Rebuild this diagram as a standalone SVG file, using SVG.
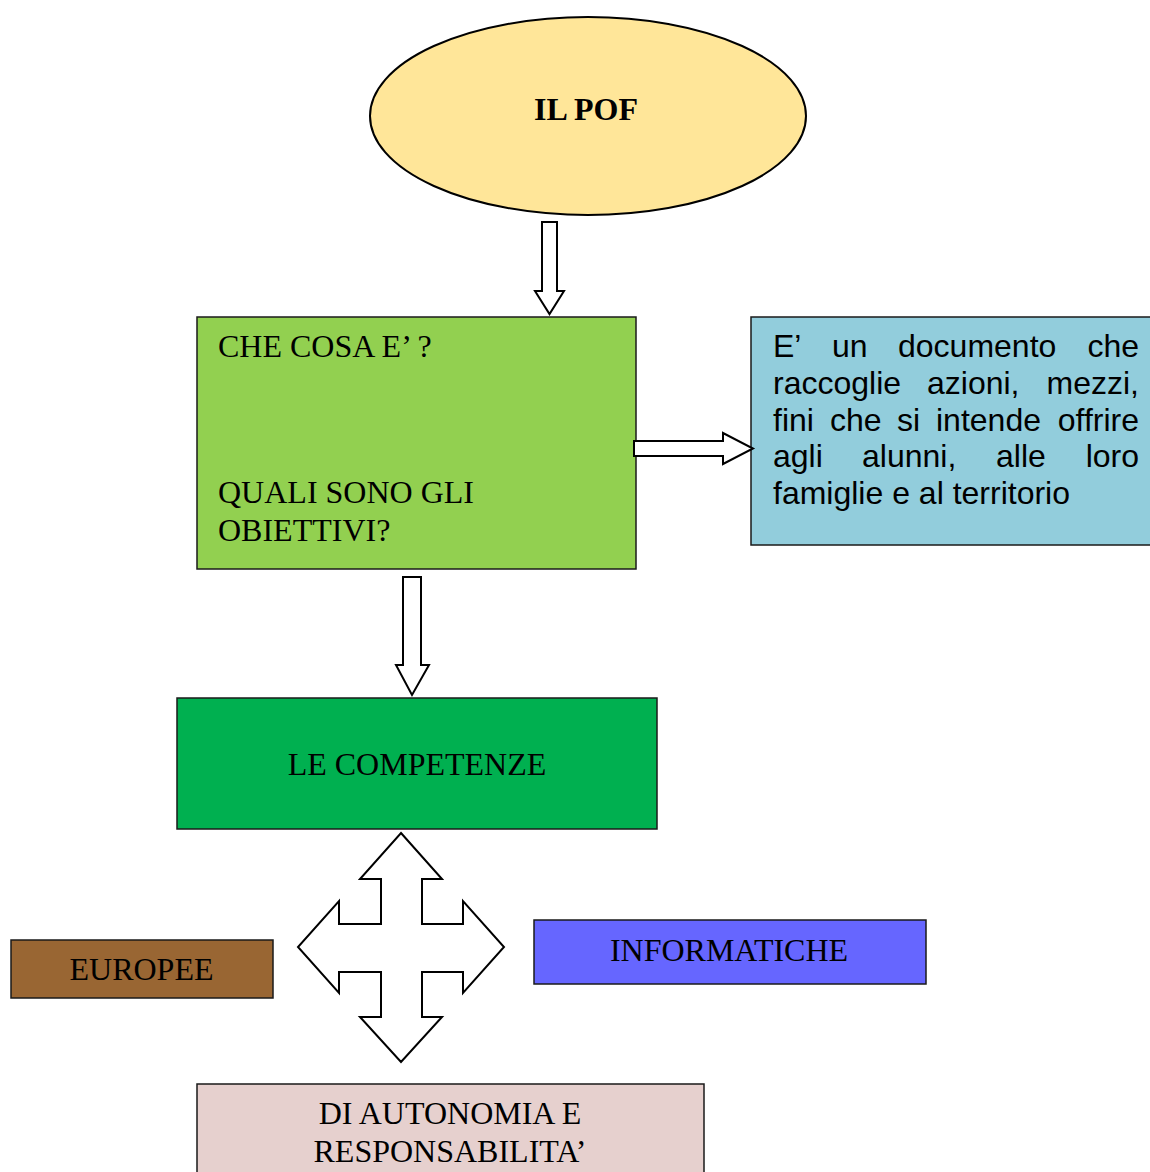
<svg xmlns="http://www.w3.org/2000/svg" width="1150" height="1172" viewBox="0 0 1150 1172">
<style>
.box{stroke:#1a1a1a;stroke-width:1.5}
.arr{fill:#ffffff;stroke:#000000;stroke-width:2;stroke-linejoin:miter}
.serif{font-family:"Liberation Serif","Times New Roman",serif;font-size:32px;fill:#000}
.sans{font-family:"Liberation Sans",Arial,sans-serif;font-size:32px;fill:#000}
.mid{text-anchor:middle}
.end{text-anchor:end}
</style>
<rect width="1150" height="1172" fill="#ffffff"/>
<g id="pof">
<ellipse cx="588" cy="116" rx="218" ry="99" fill="#FFE699" stroke="#000" stroke-width="2"/>
<text class="serif mid" x="586" y="120" font-weight="bold" font-size="31.5">IL POF</text>
</g>
<g id="checosa">
<rect class="box" x="197" y="317" width="439" height="252" fill="#92D050"/>
<text class="serif" x="218" y="357">CHE COSA E’ ?</text>
<text class="serif" x="218" y="503">QUALI SONO GLI</text>
<text class="serif" x="218" y="541">OBIETTIVI?</text>
</g>
<g id="documento">
<rect class="box" x="751" y="317" width="420" height="228" fill="#92CDDC"/>
<text class="sans" x="773" y="357">E’</text>
<text class="sans" x="832" y="357">un</text>
<text class="sans" x="898" y="357">documento</text>
<text class="sans end" x="1139" y="357">che</text>
<text class="sans" x="773" y="394">raccoglie</text>
<text class="sans" x="927" y="394">azioni,</text>
<text class="sans end" x="1139" y="394">mezzi,</text>
<text class="sans" x="773" y="431">fini</text>
<text class="sans" x="830" y="431">che</text>
<text class="sans" x="897" y="431">si</text>
<text class="sans" x="936" y="431">intende</text>
<text class="sans end" x="1139" y="431">offrire</text>
<text class="sans" x="773" y="467">agli</text>
<text class="sans" x="862" y="467">alunni,</text>
<text class="sans" x="996" y="467">alle</text>
<text class="sans end" x="1139" y="467">loro</text>
<text class="sans" x="773" y="504">famiglie e al territorio</text>
</g>
<g id="competenze">
<rect class="box" x="177" y="698" width="480" height="131" fill="#00B050"/>
<text class="serif mid" x="417" y="775">LE COMPETENZE</text>
</g>
<g id="europee">
<rect class="box" x="11" y="940" width="262" height="58" fill="#996633"/>
<text class="serif mid" x="141.5" y="980">EUROPEE</text>
</g>
<g id="informatiche">
<rect class="box" x="534" y="920" width="392" height="64" fill="#6666FF"/>
<text class="serif mid" x="729" y="961">INFORMATICHE</text>
</g>
<g id="autonomia">
<rect class="box" x="197" y="1084" width="507" height="100" fill="#E6D0CE"/>
<text class="serif mid" x="450" y="1124">DI AUTONOMIA E</text>
<text class="serif mid" x="450" y="1162">RESPONSABILITA’</text>
</g>
<g id="connectors">
<path class="arr" d="M542,222 L557,222 L557,291 L564,291 L549.5,314 L535,291 L542,291 Z"/>
<path class="arr" d="M634,441 L723,441 L723,433 L753,448.5 L723,464 L723,456 L634,456 Z"/>
<path class="arr" d="M403,577 L421,577 L421,665 L429,665 L412,695 L396,665 L403,665 Z"/>
<path class="arr" d="M401,833 L442,879 L422,879 L422,924 L463,924 L463,901 L504,947 L463,993 L463,972 L422,972 L422,1017 L442,1017 L401,1062 L360,1017 L381,1017 L381,972 L339,972 L339,993 L298,947 L339,901 L339,924 L381,924 L381,879 L360,879 Z"/>
</g>
</svg>
